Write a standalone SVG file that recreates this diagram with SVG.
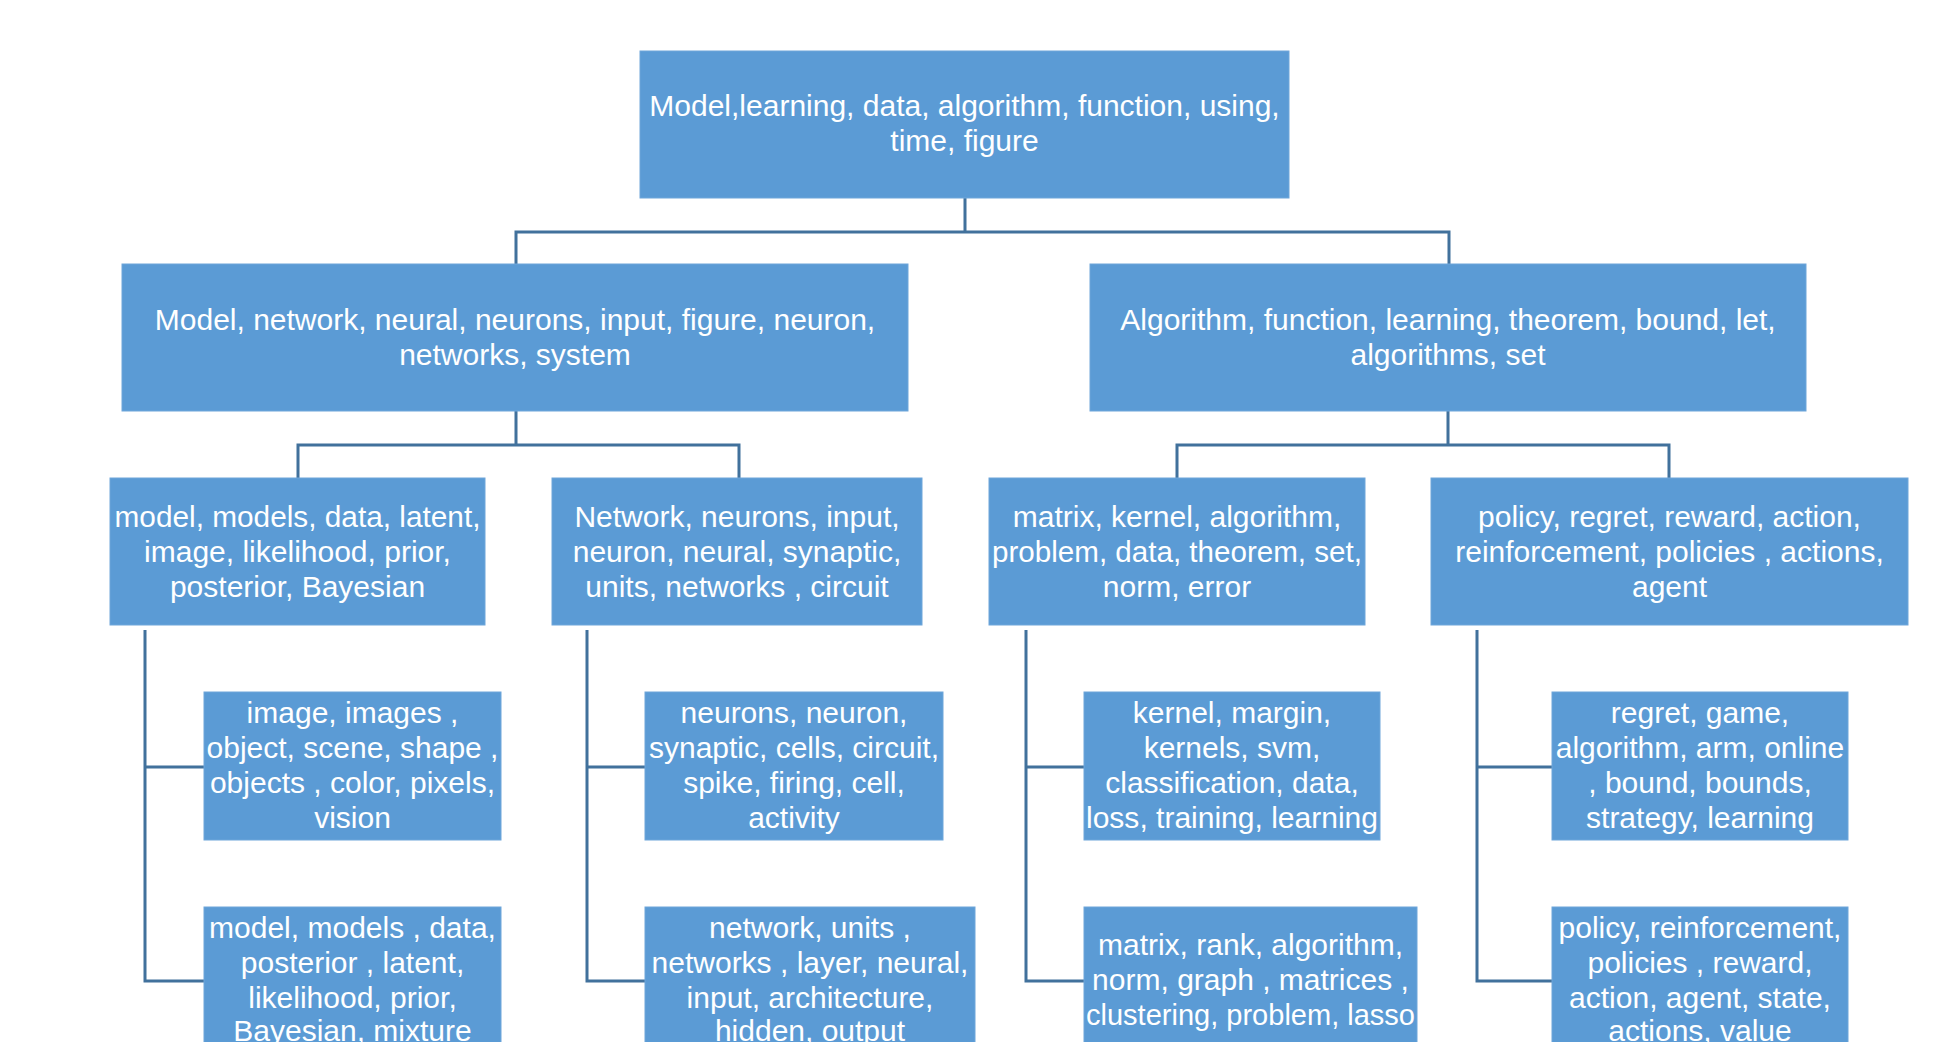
<svg xmlns="http://www.w3.org/2000/svg" width="1953" height="1042" viewBox="0 0 1953 1042">
<style>
.box{fill:#5B9BD5;stroke:#6FA6DA;stroke-width:1}
.t{font-family:"Liberation Sans",Arial,sans-serif;font-size:30px;fill:#FFFFFF;text-anchor:middle}
.c{fill:none;stroke:#41719C;stroke-width:3}
</style>
<rect width="1953" height="1042" fill="#FFFFFF"/>
<g id="connectors">
<path class="c" d="M965 198V232M516 264V232H1449V264"/>
<path class="c" d="M516 411V445M298 478V445H739V478"/>
<path class="c" d="M1448 411V445M1177 478V445H1669V478"/>
<path class="c" d="M145 630V981H204M145 767H204"/>
<path class="c" d="M587 630V981H645M587 767H645"/>
<path class="c" d="M1026 630V981H1084M1026 767H1084"/>
<path class="c" d="M1477 630V981H1552M1477 767H1552"/>
</g>
<g id="root">
<rect class="box" x="640" y="51" width="649" height="147"/>
<text class="t" x="964.5" y="116">Model,learning, data, algorithm, function, using,</text>
<text class="t" x="964.5" y="151">time, figure</text>
</g>
<g id="l2-left">
<rect class="box" x="122" y="264" width="786" height="147"/>
<text class="t" x="515" y="330">Model, network, neural, neurons, input, figure, neuron,</text>
<text class="t" x="515" y="365">networks, system</text>
</g>
<g id="l2-right">
<rect class="box" x="1090" y="264" width="716" height="147"/>
<text class="t" x="1448" y="330">Algorithm, function, learning, theorem, bound, let,</text>
<text class="t" x="1448" y="365">algorithms, set</text>
</g>
<g id="l3-a">
<rect class="box" x="110" y="478" width="375" height="147"/>
<text class="t" x="297.5" y="527" textLength="366" lengthAdjust="spacingAndGlyphs">model, models, data, latent,</text>
<text class="t" x="297.5" y="562">image, likelihood, prior,</text>
<text class="t" x="297.5" y="597">posterior, Bayesian</text>
</g>
<g id="l3-b">
<rect class="box" x="552" y="478" width="370" height="147"/>
<text class="t" x="737" y="527">Network, neurons, input,</text>
<text class="t" x="737" y="562">neuron, neural, synaptic,</text>
<text class="t" x="737" y="597">units, networks , circuit</text>
</g>
<g id="l3-c">
<rect class="box" x="989" y="478" width="376" height="147"/>
<text class="t" x="1177" y="527">matrix, kernel, algorithm,</text>
<text class="t" x="1177" y="562" textLength="370" lengthAdjust="spacingAndGlyphs">problem, data, theorem, set,</text>
<text class="t" x="1177" y="597">norm, error</text>
</g>
<g id="l3-d">
<rect class="box" x="1431" y="478" width="477" height="147"/>
<text class="t" x="1669.5" y="527">policy, regret, reward, action,</text>
<text class="t" x="1669.5" y="562">reinforcement, policies , actions,</text>
<text class="t" x="1669.5" y="597">agent</text>
</g>
<g id="l4-a1">
<rect class="box" x="204" y="692" width="297" height="148"/>
<text class="t" x="352.5" y="723">image, images ,</text>
<text class="t" x="352.5" y="758">object, scene, shape ,</text>
<text class="t" x="352.5" y="793">objects , color, pixels,</text>
<text class="t" x="352.5" y="828">vision</text>
</g>
<g id="l4-a2">
<rect class="box" x="204" y="907" width="297" height="150"/>
<text class="t" x="352.5" y="938">model, models , data,</text>
<text class="t" x="352.5" y="973">posterior , latent,</text>
<text class="t" x="352.5" y="1008">likelihood, prior,</text>
<text class="t" x="352.5" y="1041">Bayesian, mixture</text>
</g>
<g id="l4-b1">
<rect class="box" x="645" y="692" width="298" height="148"/>
<text class="t" x="794" y="723">neurons, neuron,</text>
<text class="t" x="794" y="758">synaptic, cells, circuit,</text>
<text class="t" x="794" y="793">spike, firing, cell,</text>
<text class="t" x="794" y="828">activity</text>
</g>
<g id="l4-b2">
<rect class="box" x="645" y="907" width="330" height="150"/>
<text class="t" x="810" y="938">network, units ,</text>
<text class="t" x="810" y="973">networks , layer, neural,</text>
<text class="t" x="810" y="1008">input, architecture,</text>
<text class="t" x="810" y="1041">hidden, output</text>
</g>
<g id="l4-c1">
<rect class="box" x="1084" y="692" width="296" height="148"/>
<text class="t" x="1232" y="723">kernel, margin,</text>
<text class="t" x="1232" y="758">kernels, svm,</text>
<text class="t" x="1232" y="793">classification, data,</text>
<text class="t" x="1232" y="828" textLength="292" lengthAdjust="spacingAndGlyphs">loss, training, learning</text>
</g>
<g id="l4-c2">
<rect class="box" x="1084" y="907" width="333" height="150"/>
<text class="t" x="1250.5" y="955">matrix, rank, algorithm,</text>
<text class="t" x="1250.5" y="990">norm, graph , matrices ,</text>
<text class="t" x="1250.5" y="1025" textLength="329" lengthAdjust="spacingAndGlyphs">clustering, problem, lasso</text>
</g>
<g id="l4-d1">
<rect class="box" x="1552" y="692" width="296" height="148"/>
<text class="t" x="1700" y="723">regret, game,</text>
<text class="t" x="1700" y="758">algorithm, arm, online</text>
<text class="t" x="1700" y="793">, bound, bounds,</text>
<text class="t" x="1700" y="828">strategy, learning</text>
</g>
<g id="l4-d2">
<rect class="box" x="1552" y="907" width="296" height="150"/>
<text class="t" x="1700" y="938">policy, reinforcement,</text>
<text class="t" x="1700" y="973">policies , reward,</text>
<text class="t" x="1700" y="1008">action, agent, state,</text>
<text class="t" x="1700" y="1041">actions, value</text>
</g>
</svg>
